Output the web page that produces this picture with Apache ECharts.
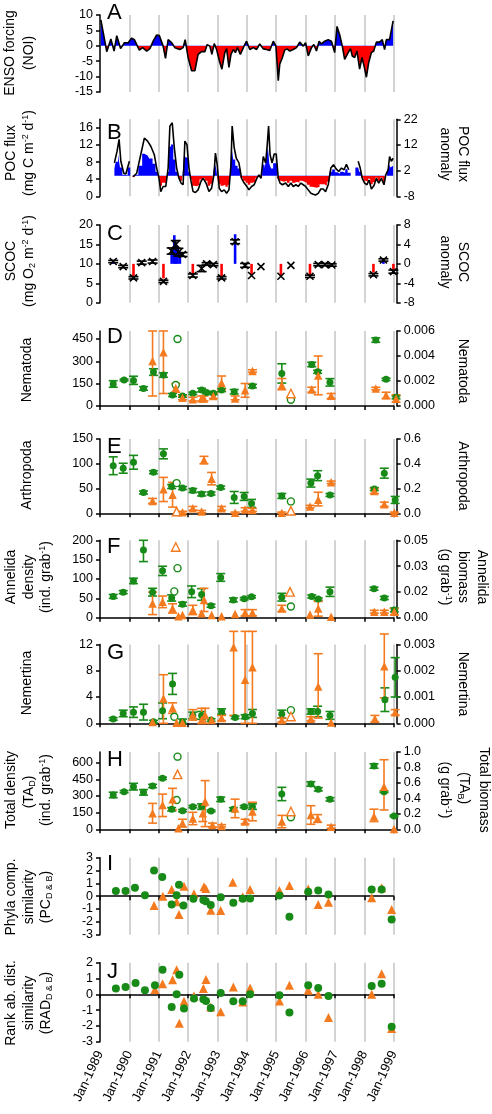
<!DOCTYPE html>
<html><head><meta charset="utf-8">
<script src="https://cdn.jsdelivr.net/npm/echarts@6/dist/echarts.min.js"></script>
<style>html,body{margin:0;padding:0;background:#fff}#c{width:492px;height:1114px}#err{position:absolute;left:0;top:0;width:492px;font:9px monospace;color:#c00;white-space:pre-wrap}</style>
</head><body><div id="c"></div><div id="err"></div>
<script>
// ---------------- DATA ----------------
const xTickLabels = ['Jan-1989','Jan-1990','Jan-1991','Jan-1992','Jan-1993','Jan-1994','Jan-1995','Jan-1996','Jan-1997','Jan-1998','Jan-1999'];

// A: ENSO forcing (NOI) [decimal year, NOI]
const noi = [[1989.03,8.4],[1989.23,-1.9],[1989.37,2.2],[1989.48,-1.7],[1989.57,3.3],[1989.70,-0.9],[1989.83,1.0],[1989.96,1.0],[1990.08,2.5],[1990.17,2.0],[1990.25,0.4],[1990.34,-1.4],[1990.45,-0.6],[1990.59,-1.7],[1990.70,-0.9],[1990.81,1.5],[1990.93,3.5],[1991.02,3.3],[1991.15,-0.1],[1991.23,-4.1],[1991.32,2.0],[1991.44,1.0],[1991.55,-0.6],[1991.72,-1.2],[1991.83,-0.6],[1991.90,2.0],[1992.00,-3.8],[1992.12,-8.1],[1992.23,-8.1],[1992.34,-2.8],[1992.46,-1.9],[1992.57,-1.9],[1992.65,0.4],[1992.74,-0.1],[1992.81,-2.8],[1992.89,0.7],[1992.97,-1.2],[1993.08,-5.4],[1993.15,-7.6],[1993.25,-2.2],[1993.31,-0.9],[1993.39,-7.0],[1993.46,-2.8],[1993.54,-1.2],[1993.61,-2.2],[1993.68,-0.6],[1993.78,-2.8],[1993.90,-0.2],[1993.99,1.5],[1994.10,-1.2],[1994.22,-0.6],[1994.33,-1.2],[1994.44,0.6],[1994.56,-1.0],[1994.67,-1.2],[1994.78,-1.5],[1994.90,1.5],[1994.99,-0.1],[1995.07,-11.3],[1995.12,-6.0],[1995.21,-3.8],[1995.29,-1.4],[1995.37,-1.0],[1995.46,-1.7],[1995.58,-1.2],[1995.69,-0.6],[1995.80,1.2],[1995.92,-0.1],[1996.00,1.0],[1996.09,-3.3],[1996.20,-0.6],[1996.28,0.4],[1996.37,-1.7],[1996.46,1.5],[1996.54,0.6],[1996.65,1.5],[1996.77,2.0],[1996.88,1.5],[1996.99,-2.2],[1997.07,6.3],[1997.16,3.6],[1997.25,-0.1],[1997.33,-4.4],[1997.45,-2.2],[1997.53,-0.9],[1997.59,-3.3],[1997.67,-3.8],[1997.75,-1.7],[1997.84,-7.6],[1997.92,-3.8],[1997.99,-6.5],[1998.07,-10.2],[1998.15,-5.4],[1998.24,-2.2],[1998.32,-1.7],[1998.41,1.2],[1998.52,1.2],[1998.61,2.0],[1998.69,-1.2],[1998.75,2.0],[1998.86,2.0],[1998.98,8.1]];

// B: POC flux (left) and POC flux anomaly (right); null = gap
const pocFlux = [[1989.49,7.8],[1989.58,10.5],[1989.65,13.3],[1989.71,8.2],[1989.81,5.4],[1989.88,5.2],[1990.00,8.2],[1990.06,null],
[1990.13,4.6],[1990.25,5.4],[1990.36,8.9],[1990.51,13.6],[1990.62,12.9],[1990.73,11.7],[1990.85,9.7],[1990.93,6.6],[1991.01,4.2],[1991.07,1.1],[1991.15,2.3],[1991.24,2.3],[1991.32,6.6],[1991.38,16.4],[1991.46,17.2],[1991.53,11.3],[1991.61,6.6],[1991.69,4.2],[1991.76,3.1],[1991.83,2.7],[1991.89,12.9],[1991.96,12.1],[1992.03,6.6],[1992.10,3.5],[1992.17,1.1],[1992.25,0.9],[1992.34,1.5],[1992.44,3.5],[1992.51,4.2],[1992.61,3.1],[1992.71,1.1],[1992.80,1.9],[1992.88,5.0],[1992.93,10.1],[1992.99,7.4],[1993.06,1.9],[1993.14,1.1],[1993.23,1.5],[1993.31,0.7],[1993.39,1.5],[1993.46,7.4],[1993.50,16.4],[1993.57,11.3],[1993.64,8.9],[1993.73,7.8],[1993.82,4.2],[1993.91,3.1],[1994.00,2.3],[1994.07,1.5],[1994.16,2.3],[1994.25,2.7],[1994.34,4.2],[1994.41,5.0],[1994.48,4.2],[1994.56,9.3],[1994.64,7.8],[1994.69,11.7],[1994.74,16.4],[1994.79,9.7],[1994.86,7.8],[1994.93,9.9],[1995.00,9.9],[1995.07,4.2],[1995.13,3.1],[1995.21,2.7],[1995.32,3.1],[1995.41,2.3],[1995.50,3.1],[1995.58,2.3],[1995.67,2.7],[1995.75,2.3],[1995.84,3.1],[1995.92,2.7],[1996.00,2.3],[1996.09,1.5],[1996.18,0.7],[1996.26,0.5],[1996.34,0.3],[1996.43,0.7],[1996.52,1.7],[1996.60,1.7],[1996.68,1.1],[1996.77,2.7],[1996.86,6.6],[1996.95,7.4],[1997.04,6.4],[1997.13,5.8],[1997.22,6.6],[1997.31,6.2],[1997.39,7.5],[1997.47,6.2],[1997.60,null],
[1997.79,8.2],[1997.86,6.6],[1997.93,4.2],[1998.01,3.1],[1998.09,2.7],[1998.16,3.8],[1998.24,1.7],[1998.33,2.5],[1998.41,4.2],[1998.49,3.1],[1998.58,4.2],[1998.67,2.7],[1998.73,5.0],[1998.81,6.2],[1998.86,9.3],[1998.92,8.2],[1998.98,8.9]];
const pocAnom = [[1989.49,2.8],[1989.58,5.5],[1989.65,8.3],[1989.71,3.2],[1989.81,0.4],[1989.88,0.2],[1990.00,3.2],[1990.06,null],
[1990.13,-0.4],[1990.25,0.4],[1990.36,3.9],[1990.51,8.6],[1990.62,7.9],[1990.73,6.7],[1990.85,4.7],[1990.93,1.6],[1991.01,-0.8],[1991.07,-3.9],[1991.15,-2.7],[1991.24,-2.7],[1991.32,1.6],[1991.38,11.4],[1991.46,12.2],[1991.53,6.3],[1991.61,1.6],[1991.69,-0.8],[1991.76,-1.9],[1991.83,-2.3],[1991.89,7.9],[1991.96,7.1],[1992.03,1.6],[1992.10,-1.5],[1992.17,-3.9],[1992.25,-4.1],[1992.34,-3.5],[1992.44,-1.5],[1992.51,-0.8],[1992.61,-1.9],[1992.71,-3.9],[1992.80,-3.1],[1992.88,0.0],[1992.93,5.1],[1992.99,2.4],[1993.06,-3.1],[1993.14,-3.9],[1993.23,-3.5],[1993.31,-4.3],[1993.39,-3.5],[1993.46,2.4],[1993.50,11.4],[1993.57,6.3],[1993.64,3.9],[1993.73,2.8],[1993.82,-0.8],[1993.91,-1.9],[1994.00,-2.7],[1994.07,-3.5],[1994.16,-2.7],[1994.25,-2.3],[1994.34,-0.8],[1994.41,0.0],[1994.48,-0.8],[1994.56,4.3],[1994.64,2.8],[1994.69,6.7],[1994.74,11.4],[1994.79,4.7],[1994.86,2.8],[1994.93,4.9],[1995.00,4.9],[1995.07,-0.8],[1995.13,-1.9],[1995.21,-2.3],[1995.32,-1.9],[1995.41,-2.7],[1995.50,-1.9],[1995.58,-2.7],[1995.67,-2.3],[1995.75,-2.7],[1995.84,-1.9],[1995.92,-2.3],[1996.00,-2.7],[1996.09,-3.5],[1996.18,-4.3],[1996.26,-4.5],[1996.34,-4.7],[1996.43,-4.3],[1996.52,-3.3],[1996.60,-3.3],[1996.68,-3.9],[1996.77,-2.3],[1996.86,1.6],[1996.95,2.4],[1997.04,1.4],[1997.13,0.8],[1997.22,1.6],[1997.31,1.2],[1997.39,2.5],[1997.47,1.2],[1997.60,null],
[1997.79,3.2],[1997.86,1.6],[1997.93,-0.8],[1998.01,-1.9],[1998.09,-2.3],[1998.16,-1.2],[1998.24,-3.3],[1998.33,-2.5],[1998.41,-0.8],[1998.49,-1.9],[1998.58,-0.8],[1998.67,-2.3],[1998.73,0.0],[1998.81,1.2],[1998.86,4.3],[1998.92,3.2],[1998.98,3.9]];

// C: SCOC [year, mean, low, high] and SCOC anomaly [year, anomaly]
const scoc = [[1989.45,10.6,10.3,10.9],[1989.79,9.3,9.0,9.6],[1990.14,6.4,6.1,6.7],[1990.42,10.3,9.9,10.7],[1990.79,10.6,10.2,11.0],[1991.16,5.5,5.2,5.8],[1991.44,13.3,12.5,14.1],[1991.58,15.0,14.0,16.0],[1991.67,13.0,12.0,14.0],[1991.81,12.4,11.9,12.9],[1992.16,7.0,6.6,7.4],[1992.46,8.8,8.0,9.6],[1992.63,10.0,9.7,10.3],[1992.86,9.8,9.5,10.1],[1993.14,6.4,6.1,6.7],[1993.60,15.7,15.2,16.2],[1993.94,9.6,9.1,10.1],[1994.16,7.0,7.0,7.0],[1994.48,9.3,9.3,9.3],[1995.16,6.8,6.8,6.8],[1995.50,9.6,9.6,9.6],[1996.15,6.8,6.5,7.1],[1996.43,9.8,9.5,10.1],[1996.66,9.8,9.5,10.1],[1996.89,9.7,9.4,10.0],[1998.31,7.2,6.9,7.5],[1998.65,11.0,10.7,11.3],[1998.99,8.0,7.6,8.4]];
const scocAnom = [[1989.45,0.5],[1990.14,-2.6],[1991.16,-3.0],[1991.44,2.5],[1991.53,5.9],[1991.58,4.4],[1991.64,3.5],[1991.72,2.5],[1992.16,-2.3],[1993.14,-2.6],[1993.60,6.1],[1994.16,-2.3],[1995.16,-2.5],[1996.15,-2.3],[1998.31,-1.8],[1998.65,0.8],[1998.99,-1.5]];

// D-H: [year, mean, low, high, open(1)]  density = green (left), biomass = orange (right)
const nemaDens = [[1989.45,148,126,170],[1989.82,175,169,181],[1990.14,172,145,200],[1990.48,118,106,130],[1990.82,228,206,250],[1991.16,208,193,223],[1991.47,74,64,84],[1991.58,141,141,141,1],[1991.64,450,450,450,1],[1991.81,67,59,75],[1992.16,85,77,93],[1992.46,107,95,119],[1992.63,90,82,98],[1992.86,85,77,93],[1993.14,107,97,117],[1993.57,96,81,111],[1994.19,134,122,146],[1995.19,219,154,284],[1995.50,42,42,42,1],[1996.21,279,264,294],[1996.41,230,220,240],[1996.83,159,134,184],[1998.39,443,428,458],[1998.74,179,171,187],[1999.08,58,48,68]];
const nemaBio = [[1990.79,0.0036,0.0008,0.006],[1991.16,0.0043,0.001,0.006],[1991.58,0.00145,0.0011,0.0018],[1991.81,0.00066,0.0005,0.0008],[1992.16,0.00055,0.0004,0.0007],[1992.46,0.0006,0.0004,0.0008],[1992.54,0.0006,0.0004,0.0008],[1992.86,0.0008,0.0006,0.001],[1993.14,0.00185,0.0013,0.0024],[1993.60,0.0006,0.0005,0.0008],[1993.94,0.00127,0.0007,0.0018],[1994.19,0.0028,0.0027,0.0029],[1995.19,0.00166,0.0013,0.0022],[1995.50,0.001,0.001,0.001,1],[1996.21,0.00132,0.0011,0.0015],[1996.43,0.00245,0.0009,0.004],[1996.87,0.00082,0.0006,0.001],[1998.39,0.0014,0.0013,0.0015],[1998.74,0.00087,0.0006,0.0011],[1999.08,0.0006,0.0003,0.0009]];
const arthDens = [[1989.45,96,78,114],[1989.79,91,81,101],[1990.14,103,89,117],[1990.48,42,39,45],[1990.82,83,80,86],[1991.16,120,110,130],[1991.44,54,50,58],[1991.61,61,61,61,1],[1991.81,51,48,54],[1992.16,46,42,50],[1992.46,39,35,43],[1992.78,40,37,43],[1993.11,52,49,55],[1993.57,32,20,44],[1993.91,34,26,42],[1994.16,20,12,28],[1995.19,35,30,40],[1995.50,24,24,24,1],[1996.18,61,53,69],[1996.41,76,66,86],[1996.83,37,34,40],[1998.34,49,46,52],[1998.68,81,71,91],[1999.05,27,20,34]];
const arthBio = [[1990.79,0.10,0.08,0.12],[1991.16,0.195,0.095,0.29],[1991.47,0.15,0.05,0.25],[1991.61,0.014,0.014,0.014,1],[1991.81,0.008,0,0.016],[1992.16,0.04,0.025,0.055],[1992.46,0.014,0.005,0.023],[1992.54,0.43,0.4,0.46],[1992.80,0.28,0.23,0.33],[1993.14,0.04,0.025,0.055],[1993.60,0.005,0,0.01],[1993.94,0.03,0.015,0.045],[1994.19,0.027,0.015,0.04],[1995.19,0.005,0,0.01],[1995.50,0.02,0.02,0.02,1],[1996.15,0.054,0.044,0.064],[1996.43,0.11,0.06,0.17],[1996.87,0.25,0.24,0.26],[1998.34,0.18,0.16,0.2],[1998.68,0.073,0.055,0.09],[1999.02,0.005,0,0.01]];
const anneDens = [[1989.45,55,50,60],[1989.79,66,62,70],[1990.14,95,88,102],[1990.48,175,145,200],[1990.79,66,56,76],[1991.13,121,109,133],[1991.44,51,43,59],[1991.53,68,68,68,1],[1991.64,128,128,128,1],[1991.81,35,30,40],[1992.12,67,52,82],[1992.46,60,45,75],[1992.78,31,27,35],[1993.11,104,94,114],[1993.54,46,41,51],[1993.91,49,46,52],[1994.16,54,51,57],[1995.19,53,43,63],[1995.50,29,29,29,1],[1996.21,55,51,59],[1996.43,48,45,51],[1996.83,67,55,79],[1998.33,75,71,79],[1998.68,51,47,55],[1999.02,20,15,25]];
const anneBio = [[1990.79,0.0092,0.002,0.0165],[1991.13,0.0103,0.0065,0.014],[1991.47,0.006,0.003,0.009],[1991.58,0.0457,0.0457,0.0457,1],[1991.67,0.001,0.001,0.001],[1991.81,0.0017,0.0017,0.0017],[1992.16,0.005,0.002,0.008],[1992.46,0.0028,0.0028,0.0028],[1992.54,0.0114,0.004,0.019],[1992.80,0.0017,0.0017,0.0017],[1993.14,0.001,0.001,0.001],[1993.60,0.0024,0.0024,0.0024],[1993.94,0.0032,0.0012,0.0052],[1994.19,0.0032,0.0012,0.0052],[1995.19,0.006,0.004,0.008],[1995.47,0.0167,0.0167,0.0167,1],[1996.15,0.0021,0.0021,0.0021],[1996.43,0.006,0.001,0.0105],[1996.87,0.0006,0.0006,0.0006],[1998.34,0.0039,0.003,0.0048],[1998.68,0.0039,0.003,0.0048],[1999.02,0.0039,0.0019,0.0059]];
const nemeDens = [[1989.45,0.66,0.46,0.86],[1989.79,1.5,1.0,2.0],[1990.14,1.7,0.9,2.5],[1990.48,1.7,0.5,2.9],[1990.82,0.25,0.05,0.45],[1991.13,1.9,0.7,3.1],[1991.47,6.0,4.4,7.6],[1991.53,1.0,1.0,1.0,1],[1991.81,0.25,0,0.65],[1992.16,1.2,0.7,1.7],[1992.46,1.2,0.6,1.8],[1992.78,0.5,0.3,0.7],[1993.14,1.8,1.4,2.2],[1993.60,0.9,0.7,1.1],[1993.94,1.0,0.7,1.3],[1994.19,1.5,0.9,2.1],[1995.19,1.4,0.8,2.0],[1995.50,2.0,2.0,2.0,1],[1996.18,1.8,1.4,2.2],[1996.41,1.8,1.0,2.6],[1996.83,1.2,0.6,1.8],[1998.70,3.6,1.8,5.4],[1999.05,7.0,4.0,10.0]];
const nemeBio = [[1990.79,0.00005,0.00005,0.00005],[1991.16,0.00094,0,0.00185],[1991.47,0.00058,0.00038,0.00078],[1991.61,0.00002,0.00002,0.00002],[1991.81,0.00002,0.00002,0.00002],[1992.16,0.00032,0.00012,0.00052],[1992.46,0.00013,0,0.00057],[1992.58,0.00032,0,0.00057],[1992.80,0.00013,0.00013,0.00013],[1993.14,0.0002,0.0001,0.0003],[1993.55,0.0029,0.0003,0.0035],[1993.94,0.00166,0,0.0035],[1994.19,0.00213,0,0.0035],[1995.19,0.00013,0.00005,0.0002],[1995.50,0.00026,0.00026,0.00026,1],[1996.18,0.00017,0.0001,0.00025],[1996.43,0.0014,0.0002,0.00265],[1996.87,0.00003,0.00003,0.00003],[1998.36,0.00017,0.00005,0.0003],[1998.68,0.00217,0.00097,0.0034],[1999.05,0.00042,0.00032,0.00052]];
const totDens = [[1989.45,309,284,334],[1989.82,339,329,349],[1990.14,384,354,414],[1990.48,333,308,358],[1990.79,390,375,405],[1991.13,459,449,469],[1991.44,180,165,195],[1991.61,264,264,264,1],[1991.64,654,654,654,1],[1991.81,168,158,178],[1992.16,204,194,214],[1992.46,204,179,229],[1992.78,165,157,173],[1993.11,270,250,290],[1993.54,180,165,195],[1993.91,204,194,214],[1994.19,204,179,229],[1995.19,318,258,378],[1995.50,108,108,108,1],[1996.18,408,388,428],[1996.43,360,345,375],[1996.83,270,255,285],[1998.33,570,550,590],[1998.67,339,331,347],[1999.01,120,112,128]];
const totBio = [[1990.79,0.207,0.08,0.335],[1991.13,0.315,0.165,0.455],[1991.47,0.388,0.25,0.53],[1991.64,0.71,0.71,0.71,1],[1991.67,0.013,0.013,0.013],[1991.81,0.078,0.03,0.13],[1992.16,0.14,0.06,0.22],[1992.50,0.207,0.1,0.3],[1992.58,0.36,0.035,0.63],[1992.83,0.056,0.03,0.08],[1993.14,0.043,0.03,0.06],[1993.60,0.27,0.15,0.39],[1993.94,0.1,0.07,0.13],[1994.19,0.23,0.11,0.35],[1995.19,0.1,0.02,0.18],[1995.50,0.23,0.23,0.23,1],[1996.18,0.185,0.065,0.305],[1996.41,0.14,0.09,0.19],[1996.87,0.034,0.014,0.054],[1998.33,0.164,0.1,0.26],[1998.67,0.55,0.25,0.9],[1999.01,0.004,0.004,0.004]];

// I, J: similarity indices [year, value]
const phylaD = [[1989.54,0.4],[1989.87,0.4],[1990.19,0.65],[1990.53,0.08],[1990.84,2.0],[1991.12,1.5],[1991.44,-0.65],[1991.61,0.08],[1991.69,0.9],[1991.84,-0.73],[1992.18,-0.2],[1992.52,-0.3],[1992.60,-0.4],[1992.77,-0.68],[1993.11,-0.08],[1993.54,-0.52],[1993.86,-0.2],[1994.11,-0.18],[1995.11,0.05],[1995.45,-1.6],[1996.09,0.34],[1996.43,0.44],[1996.78,0.13],[1998.25,0.52],[1998.59,0.52],[1998.93,-1.82]];
const phylaB = [[1990.84,-0.73],[1991.14,0.0],[1991.44,0.52],[1991.61,-0.44],[1991.69,-1.43],[1991.86,0.78],[1992.20,0.2],[1992.54,0.73],[1992.60,0.6],[1992.77,-1.1],[1993.11,-1.12],[1993.52,1.09],[1993.86,-0.05],[1994.11,0.52],[1995.11,0.44],[1995.45,0.83],[1996.09,0.57],[1996.43,-0.65],[1996.78,-0.47],[1998.25,-0.13],[1998.59,0.65],[1998.93,-1.04]];
const rankD = [[1989.54,0.36],[1989.87,0.46],[1990.21,0.71],[1990.53,0.25],[1990.87,0.57],[1991.13,1.55],[1991.44,-0.8],[1991.61,0.0],[1991.70,1.24],[1991.86,-0.9],[1992.20,-0.27],[1992.52,-0.31],[1992.61,-0.42],[1992.77,-0.86],[1993.11,0.08],[1993.54,-0.44],[1993.86,-0.44],[1994.11,0.0],[1995.11,-0.06],[1995.45,-1.15],[1996.09,0.57],[1996.43,0.4],[1996.78,-0.1],[1998.25,0.52],[1998.59,0.67],[1998.93,-2.05]];
const rankB = [[1990.87,0.31],[1991.13,0.67],[1991.47,0.92],[1991.61,1.55],[1991.70,-1.84],[1991.86,-0.44],[1992.20,-0.1],[1992.52,0.36],[1992.61,0.94],[1992.77,-0.8],[1993.11,-1.11],[1993.54,0.46],[1993.86,-0.48],[1994.11,0.4],[1995.11,-0.42],[1995.45,0.57],[1996.09,0.25],[1996.43,0.0],[1996.78,-1.47],[1998.25,0.0],[1998.59,1.3],[1998.93,-2.16]];

// ---------------- LAYOUT / STYLE ----------------
const FONT = '"Liberation Sans", Arial, Helvetica, sans-serif';
const GREEN = '#178a17', ORANGE = '#f47a1f', GRAY = '#c4c4c4', POS = '#0000ff', NEG = '#ff0000';
const GX = 100, GW = 293.7;
const geo = [[15,77],[119.3,77],[225,77.7],[331,75],[439,74.3],[540.3,77.4],[644.5,78.8],[752,77.3],[857.7,77],[962.7,79]];

const grid = geo.map(g => ({left:GX, width:GW, top:g[0], height:g[1]}));

const xAxis = geo.map((g,i) => {
  const showLine = i >= 3;
  return {
    type:'value', gridIndex:i, min:1989, max:1999, interval:1,
    axisLabel:{show:false},
    axisLine:{show:showLine, onZero: i >= 8, lineStyle:{color:'#000', width:1.5}},
    axisTick:{show:showLine, length:4, lineStyle:{color:'#000', width:1.5}},
    splitLine:{show:true, showMinLine:false, lineStyle:{color:GRAY, width:1.5}}
  };
});
xAxis.push({
  type:'value', gridIndex:9, min:1989, max:1999, interval:1, position:'bottom',
  axisLine:{show:false, onZero:false}, axisTick:{show:false}, splitLine:{show:false},
  axisLabel:{show:true, rotate:65, margin:10, fontSize:13, fontFamily:FONT, color:'#000',
    formatter:(v,i)=>xTickLabels[i]}
});

function yAx(gi, pos, min, max, interval, fmt, custom) {
  const a = {
    type:'value', gridIndex:gi, position:pos, min, max, interval,
    offset: pos === 'right' ? 3 : 0,
    axisLine:{show:true, onZero:false, lineStyle:{color:'#000', width:1.5}},
    axisTick:{show:true, length:4, lineStyle:{color:'#000', width:1.5}},
    axisLabel:{fontSize:12.5, fontFamily:FONT, color:'#000', margin:7},
    splitLine:{show:false}
  };
  if (fmt) a.axisLabel.formatter = fmt;
  if (custom) { a.axisLabel.customValues = custom; a.axisTick.customValues = custom; }
  return a;
}
const yAxis = [
  yAx(0,'left',-15,10,5),
  yAx(1,'left',0,18,4,null,[0,4,8,12,16]),
  yAx(1,'right',-8,22,10),
  yAx(2,'left',0,20,5),
  yAx(2,'right',-8,8,4),
  yAx(3,'left',0,504,150,null,[0,150,300,450]),
  yAx(3,'right',0,0.006,0.002,v=>v.toFixed(3)),
  yAx(4,'left',0,150,50),
  yAx(4,'right',0,0.6,0.2,v=>v.toFixed(1)),
  yAx(5,'left',0,200,50),
  yAx(5,'right',0,0.05,0.05/3,v=>v.toFixed(2),[0,0.05/3,0.1/3,0.05]),
  yAx(6,'left',0,12,4),
  yAx(6,'right',0,0.003,0.001,v=>v.toFixed(3)),
  yAx(7,'left',0,696,150,null,[0,150,300,450,600]),
  yAx(7,'right',0,1,0.2,v=>v.toFixed(1)),
  yAx(8,'left',-3,3,1),
  yAx(9,'left',-3,2,1)
];

// ---------------- SERIES ----------------
const series = [];
series.push({type:'line', xAxisIndex:0, yAxisIndex:0, data:noi, showSymbol:false, lineStyle:{width:0}, areaStyle:{opacity:1, color:POS}, z:2, silent:true});
series.push({type:'line', xAxisIndex:0, yAxisIndex:0, data:noi, showSymbol:false, lineStyle:{color:'#000', width:1.6}, z:3, silent:true});
series.push({type:'line', xAxisIndex:1, yAxisIndex:2, data:pocAnom, step:'middle', showSymbol:false, lineStyle:{width:0}, areaStyle:{opacity:1, color:POS}, z:2, silent:true});
series.push({type:'line', xAxisIndex:1, yAxisIndex:1, data:pocFlux, showSymbol:false, lineStyle:{color:'#000', width:1.6}, z:3, silent:true});
series.push({type:'custom', xAxisIndex:2, yAxisIndex:4, data:scocAnom, silent:true, z:2,
  renderItem:(p,api)=>{
    const x = api.value(0), a = api.value(1);
    const p0 = api.coord([x,0]), p1 = api.coord([x,a]);
    return {type:'rect', shape:{x:p0[0]-1.3, y:Math.min(p0[1],p1[1]), width:2.6, height:Math.abs(p1[1]-p0[1])},
      style:{fill: a < 0 ? NEG : POS}};
  }});
series.push({type:'custom', xAxisIndex:2, yAxisIndex:3, data:scoc, silent:true, z:3,
  renderItem:(p,api)=>{
    const x = api.value(0), m = api.value(1), lo = api.value(2), hi = api.value(3);
    const c = api.coord([x,m]), cl = api.coord([x,lo]), ch = api.coord([x,hi]);
    const s = {stroke:'#000', lineWidth:1.6};
    const r = 3.5, w = 5;
    const kids = [
      {type:'line', shape:{x1:c[0]-r,y1:c[1]-r,x2:c[0]+r,y2:c[1]+r}, style:s},
      {type:'line', shape:{x1:c[0]-r,y1:c[1]+r,x2:c[0]+r,y2:c[1]-r}, style:s}
    ];
    if (hi > lo) {
      kids.push({type:'line', shape:{x1:cl[0],y1:cl[1],x2:ch[0],y2:ch[1]}, style:s});
      kids.push({type:'line', shape:{x1:cl[0]-w,y1:cl[1],x2:cl[0]+w,y2:cl[1]}, style:s});
      kids.push({type:'line', shape:{x1:ch[0]-w,y1:ch[1],x2:ch[0]+w,y2:ch[1]}, style:s});
    }
    return {type:'group', children:kids};
  }});

function errSeries(data, xi, yi, color) {
  return {type:'custom', xAxisIndex:xi, yAxisIndex:yi, data:data, silent:true, clip:false, z:3,
    renderItem:(p,api)=>{
      const x = api.value(0), lo = api.value(2), hi = api.value(3);
      if (!(hi > lo)) return {type:'group', children:[]};
      const a = api.coord([x,lo]), b = api.coord([x,hi]);
      const s = {stroke:color, lineWidth:1.6};
      const w = 4.5;
      return {type:'group', children:[
        {type:'line', shape:{x1:a[0],y1:a[1],x2:b[0],y2:b[1]}, style:s},
        {type:'line', shape:{x1:a[0]-w,y1:a[1],x2:a[0]+w,y2:a[1]}, style:s},
        {type:'line', shape:{x1:b[0]-w,y1:b[1],x2:b[0]+w,y2:b[1]}, style:s}
      ]};
    }};
}
function ptSeries(data, xi, yi, color, symbol, size) {
  return {type:'scatter', xAxisIndex:xi, yAxisIndex:yi, symbol:symbol, symbolSize:size, clip:false, silent:true, z:4,
    itemStyle:{color:color, opacity:1},
    data:data.map(d => d[4] ? {value:[d[0],d[1]], itemStyle:{color:'#fff', borderColor:color, borderWidth:1.4}} : {value:[d[0],d[1]]})};
}
[[3,5,6,nemaDens,nemaBio],[4,7,8,arthDens,arthBio],[5,9,10,anneDens,anneBio],[6,11,12,nemeDens,nemeBio],[7,13,14,totDens,totBio]]
.forEach(([xi,yl,yr,dens,bio]) => {
  series.push(errSeries(dens, xi, yl, GREEN));
  series.push(ptSeries(dens, xi, yl, GREEN, 'circle', 7));
  series.push(errSeries(bio, xi, yr, ORANGE));
  series.push(ptSeries(bio, xi, yr, ORANGE, 'triangle', 8.5));
});
series.push(ptSeries(phylaB, 8, 15, ORANGE, 'triangle', 9));
series.push(ptSeries(phylaD, 8, 15, GREEN, 'circle', 8));
series.push(ptSeries(rankB, 9, 16, ORANGE, 'triangle', 9));
series.push(ptSeries(rankD, 9, 16, GREEN, 'circle', 8));

// ---------------- TEXT ----------------
const rich = {
  n:{fontSize:14, fontFamily:FONT, lineHeight:16, verticalAlign:'middle'},
  sup:{fontSize:9, fontFamily:FONT, lineHeight:9, verticalAlign:'top'},
  sub:{fontSize:9, fontFamily:FONT, lineHeight:9, verticalAlign:'bottom'}
};
function vt(text, x, y, right) {
  return {type:'text', x:x, y:y, rotation: right ? -Math.PI/2 : Math.PI/2, silent:true,
    style:{text:text, rich:rich, font:'14px ' + FONT, fill:'#000', align:'center', verticalAlign:'middle'}};
}
const titles = [
  vt('{n|ENSO forcing}',10,53), vt('{n|(NOI)}',29,53),
  vt('{n|POC flux}',11,153), vt('{n|(mg C m}{sup|-2}{n| d}{sup|-1}{n|)}',29,153),
  vt('{n|POC flux}',463,154,true), vt('{n|anomaly}',445,154,true),
  vt('{n|SCOC}',11,261), vt('{n|(mg O}{sub|2}{n| m}{sup|-2}{n| d}{sup|-1}{n|)}',29,261),
  vt('{n|SCOC}',463,262,true), vt('{n|anomaly}',445,262,true),
  vt('{n|Nematoda}',27,370), vt('{n|Nematoda}',463,371,true),
  vt('{n|Arthropoda}',27,475), vt('{n|Arthropoda}',463,476,true),
  vt('{n|Annelida}',11,577), vt('{n|density}',29,577), vt('{n|(ind. grab}{sup|-1}{n|)}',46,577),
  vt('{n|Annelida}',482,577,true), vt('{n|biomass}',463,577,true), vt('{n|(g grab}{sup|-1}{n|)}',445,577,true),
  vt('{n|Nemertina}',27,683), vt('{n|Nemertina}',463,684,true),
  vt('{n|Total density}',11,790), vt('{n|(TA}{sub|D}{n|)}',29,792), vt('{n|(ind. grab}{sup|-1}{n|)}',46,790),
  vt('{n|Total biomass}',484,790,true), vt('{n|(TA}{sub|B}{n|)}',464,788,true), vt('{n|(g grab}{sup|-1}{n|)}',445,790,true),
  vt('{n|Phyla comp.}',11,897), vt('{n|similarity}',29,897), vt('{n|(PC}{sub|D & B}{n|)}',46,897),
  vt('{n|Rank ab. dist.}',11,1003), vt('{n|similarity}',29,1003), vt('{n|(RAD}{sub|D & B}{n|)}',46,1003)
];
const letters = [['A',12.5],['B',132.5],['C',234],['D',337],['E',447],['F',547],['G',653],['H',760],['I',864],['J',972]]
  .map(([t,y]) => ({type:'text', x:107, y:y, silent:true, z:10,
     style:{text:t, font:'22px ' + FONT, fill:'#000', align:'left', verticalAlign:'middle'}}));

const errBox = document.getElementById('err');
try {
  const chart = echarts.init(document.getElementById('c'), null, {renderer:'canvas'});
  chart.setOption({
    animation:false, backgroundColor:'#fff', textStyle:{fontFamily:FONT},
    grid, xAxis, yAxis, series, graphic: titles.concat(letters)
  });
  // sign colouring: split the fill colour at the pixel row of the zero line of each axis
  function signGradient(yi, top, height) {
    const z = chart.convertToPixel({yAxisIndex:yi}, 0);
    const f = Math.min(1, Math.max(0, (z - top) / height));
    return new echarts.graphic.LinearGradient(0, top, 0, top + height,
      [{offset:0,color:POS},{offset:f,color:POS},{offset:f,color:NEG},{offset:1,color:NEG}], true);
  }
  chart.setOption({series:[
    {areaStyle:{opacity:1, color:signGradient(0, geo[0][0], geo[0][1])}}, {},
    {areaStyle:{opacity:1, color:signGradient(2, geo[1][0], geo[1][1])}}
  ]});
} catch (e) { errBox.textContent = String(e && e.stack || e); }
</script></body></html>
